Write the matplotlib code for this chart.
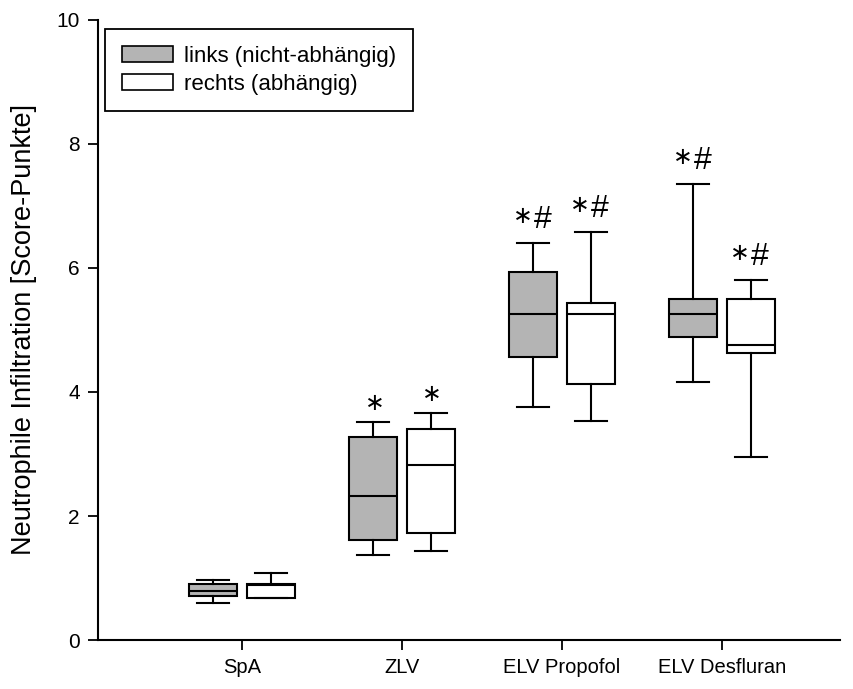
import numpy as np
import matplotlib.pyplot as plt
from matplotlib.patches import Patch

plt.rcParams['font.family'] = ['Liberation Sans', 'DejaVu Sans']
plt.rcParams['mathtext.fontset'] = 'dejavusans'

gruppen = ['SpA', 'ZLV', 'ELV Propofol', 'ELV Desfluran']

# links (nicht-abhaengig): whisker unten, Q1, Median, Q3, whisker oben
links_lo = [0.60, 1.37, 3.76, 4.16]
links_q1 = [0.71, 1.61, 4.56, 4.89]
links_med = [0.79, 2.32, 5.26, 5.26]
links_q3 = [0.90, 3.27, 5.94, 5.50]
links_hi = [0.97, 3.52, 6.40, 7.35]

# rechts (abhaengig)
rechts_lo = [0.67, 1.43, 3.53, 2.95]
rechts_q1 = [0.68, 1.73, 4.13, 4.63]
rechts_med = [0.88, 2.82, 5.26, 4.76]
rechts_q3 = [0.90, 3.40, 5.44, 5.50]
rechts_hi = [1.08, 3.66, 6.58, 5.81]

links_sig = ['', '*', '*#', '*#']
rechts_sig = ['', '*', '*#', '*#']


def stats(lo, q1, med, q3, hi):
    return [dict(whislo=a, q1=b, med=c, q3=d, whishi=e, fliers=[])
            for a, b, c, d, e in zip(lo, q1, med, q3, hi)]


fig = plt.figure(figsize=(8.54, 6.89), dpi=100)
ax = fig.add_axes([0.1148, 0.0711, 0.869, 0.8999])

x = np.arange(1, len(gruppen) + 1)
off = 0.18
kw = dict(widths=0.30, capwidths=0.20, patch_artist=True, showfliers=False,
          whiskerprops=dict(color='black', lw=1.5),
          capprops=dict(color='black', lw=1.5),
          medianprops=dict(color='black', lw=1.5))

ax.bxp(stats(links_lo, links_q1, links_med, links_q3, links_hi),
       positions=x - off, boxprops=dict(facecolor='#b4b4b4', edgecolor='black', lw=1.5), **kw)
ax.bxp(stats(rechts_lo, rechts_q1, rechts_med, rechts_q3, rechts_hi),
       positions=x + off, boxprops=dict(facecolor='white', edgecolor='black', lw=1.5), **kw)

# Signifikanz-Zeichen ueber den Whiskern
for xs, his, sigs in [(x - off, links_hi, links_sig), (x + off, rechts_hi, rechts_sig)]:
    for xi, h, s in zip(xs, his, sigs):
        if s == '*':
            ax.annotate(r'$\ast$', (xi, h), xytext=(0, 13), textcoords='offset points',
                        ha='center', va='center', fontsize=17)
        elif s == '*#':
            ax.annotate(r'$\ast$', (xi, h), xytext=(-8.6, 18.7), textcoords='offset points',
                        ha='center', va='center', fontsize=17)
            ax.annotate('#', (xi, h), xytext=(6.8, 10.8), textcoords='offset points',
                        ha='center', va='baseline', fontsize=23)

ax.set_xlim(0.1, 4.74)
ax.set_ylim(0, 10)
ax.set_yticks([0, 2, 4, 6, 8, 10])
ax.set_xticks(x)
ax.set_xticklabels(gruppen)
ax.tick_params(axis='both', direction='out', length=7, width=1.3)
ax.tick_params(axis='y', labelsize=15, pad=6)
ax.tick_params(axis='x', labelsize=14.5, pad=6)
ax.spines['top'].set_visible(False)
ax.spines['right'].set_visible(False)
ax.spines['left'].set_linewidth(1.5)
ax.spines['bottom'].set_linewidth(1.5)
ax.set_ylabel('Neutrophile Infiltration [Score-Punkte]', fontsize=19.5, labelpad=14)

handles = [Patch(facecolor='#b4b4b4', edgecolor='black', lw=1.2, label='links (nicht-abhängig)'),
           Patch(facecolor='white', edgecolor='black', lw=1.2, label='rechts (abhängig)')]
leg = ax.legend(handles=handles, loc='upper left', bbox_to_anchor=(0.0094, 0.985),
                fontsize=16, fancybox=False, edgecolor='black', framealpha=1,
                handlelength=2.3, handleheight=0.75, handletextpad=0.5,
                borderpad=0.75, labelspacing=0.3, borderaxespad=0)
leg.get_frame().set_linewidth(1.3)

fig.savefig('out.png', dpi=100)
